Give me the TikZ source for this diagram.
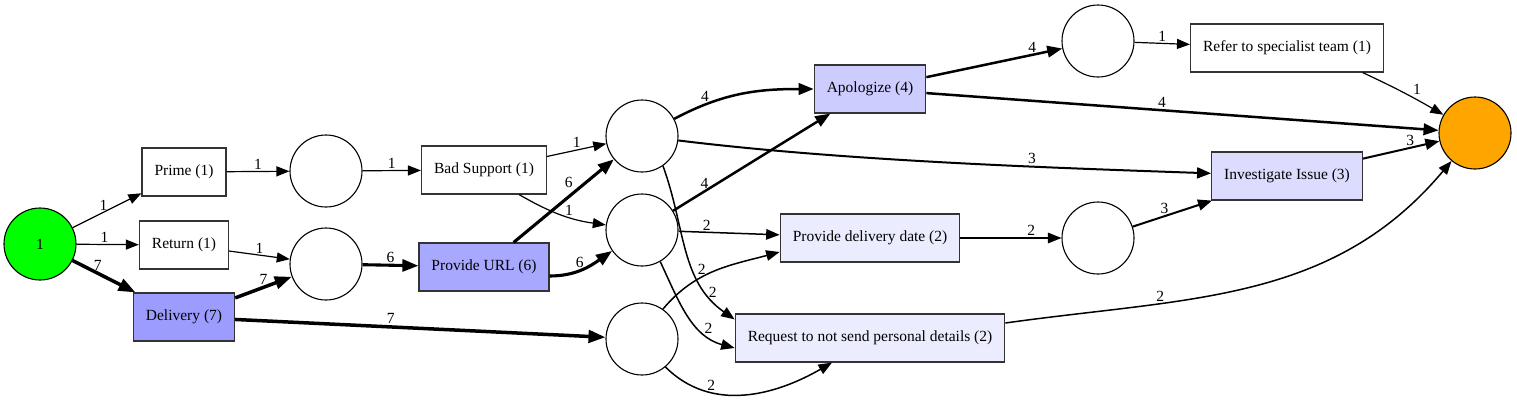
\documentclass[tikz,border=0pt]{standalone}
\usepackage{fontspec}
\setmainfont{Liberation Serif}
\usetikzlibrary{arrows.meta}

\definecolor{verde}{HTML}{00FF00}
\definecolor{naranja}{HTML}{FFA500}
\definecolor{act7}{HTML}{9C9CFF}
\definecolor{act6}{HTML}{A8A8FF}
\definecolor{act4}{HTML}{CCCCFF}
\definecolor{act3}{HTML}{DCDCFF}
\definecolor{act2}{HTML}{ECECFF}
\definecolor{borde}{HTML}{333333}

\tikzset{
  lugar/.style={circle, draw=black, line width=1.1pt, minimum size=72pt, inner sep=0pt, font=\fontsize{15.5}{18}\selectfont},
  trans/.style={rectangle, draw=borde, line width=1.2pt, minimum height=48pt, inner xsep=12.5pt, font=\fontsize{15.5}{18}\selectfont},
  peso/.style={font=\fontsize{15.5}{18}\selectfont, inner sep=1.5pt},
  a1/.style={line width=1.2pt, -{Triangle[length=13pt,width=10pt]}},
  a2/.style={line width=1.5pt, -{Triangle[length=13.5pt,width=10.5pt]}},
  a3/.style={line width=2pt, -{Triangle[length=14pt,width=11pt]}},
  a4/.style={line width=2.5pt, -{Triangle[length=15pt,width=11.5pt]}},
  a6/.style={line width=3.1pt, -{Triangle[length=16pt,width=12pt]}},
  a7/.style={line width=3.5pt, -{Triangle[length=17pt,width=12.5pt]}},
}

\begin{document}
\begin{tikzpicture}[x=1pt, y=-1pt]

    \useasboundingbox (0,0) rectangle (1517,405);

    % inicio y fin
    \node[lugar, fill=verde] (ini) at (40,244) {1};
    \node[lugar, fill=naranja] (fin) at (1475,133) {};

    % transiciones
    \node[trans, fill=white] (prime) at (184,172) {Prime (1)};
    \node[trans, fill=white] (ret) at (184,245) {Return (1)};
    \node[trans, fill=act7] (deliv) at (184,317) {Delivery (7)};
    \node[trans, fill=white] (bad) at (484,170) {Bad Support (1)};
    \node[trans, fill=act6] (url) at (484,267) {Provide URL (6)};
    \node[trans, fill=act4] (apol) at (870,89) {Apologize (4)};
    \node[trans, fill=act2] (pdd) at (870,238) {Provide delivery date (2)};
    \node[trans, fill=act2] (req) at (870,338) {Request to not send personal details (2)};
    \node[trans, fill=white] (refer) at (1287,48) {Refer to specialist team (1)};
    \node[trans, fill=act3] (invest) at (1287,176) {Investigate Issue (3)};

    % lugares
    \node[lugar] (p1) at (326,171) {};
    \node[lugar] (p2) at (326,264) {};
    \node[lugar] (p3) at (642,136) {};
    \node[lugar] (p4) at (642,230) {};
    \node[lugar] (p5) at (642,339) {};
    \node[lugar] (p6) at (1098,41) {};
    \node[lugar] (p7) at (1098,238) {};

    % arcos desde el inicio
    \draw[a1] (ini) -- node[peso, above, pos=0.45] {1} (prime);
    \draw[a1] (ini) -- node[peso, above, pos=0.45] {1} (ret);
    \draw[a7] (ini) -- node[peso, above, pos=0.4] {7} (deliv);

    % primera columna
    \draw[a1] (prime) -- node[peso, above] {1} (p1);
    \draw[a1] (ret) -- node[peso, above] {1} (p2);
    \draw[a7] (deliv) -- node[peso, above] {7} (p2);
    \draw[a7] (deliv) -- node[peso, above, pos=0.42] {7} (p5);
    \draw[a1] (p1) -- node[peso, above] {1} (bad);
    \draw[a6] (p2) -- node[peso, above] {6} (url);

    % segunda columna
    \draw[a1] (bad) -- node[peso, above] {1} (p3);
    \draw[a1] (bad.-35) to[out=-30, in=172] node[peso, above, pos=0.6] {1} (p4);
    \draw[a6] (url) -- node[peso, above left, pos=0.62] {6} (p3);
    \draw[a6] ([yshift=-9pt]url.east) to[out=0, in=-145] node[peso, above, pos=0.45] {6} (p4);

    % tercera columna
    \draw[a4] (p3) to[out=28, in=180] node[peso, above, pos=0.22] {4} (apol);
    \draw[a3] (p3) to[out=-7, in=178, looseness=0.8] node[peso, above, pos=0.66] {3} (invest);
    \draw[a2] (p3.-55) to[out=-70, in=145] node[peso, right, pos=0.78] {2} ([yshift=-6pt]req.north west);
    \draw[a4] (p4) -- node[peso, above, pos=0.2] {4} (apol);
    \draw[a2] (p4) -- node[peso, above, pos=0.28] {2} (pdd);
    \draw[a2] (p4.-60) to[out=-65, in=165] node[peso, above, pos=0.76] {2} ([yshift=-10pt]req.west);
    \draw[a2] (p5.55) to[out=50, in=195] node[peso, above, pos=0.38] {2} ([yshift=-14pt]pdd.west);
    \draw[a2] (p5.-50) to[out=-45, in=-150] node[peso, above, pos=0.3] {2} ([xshift=-38pt]req.south);

    % cuarta columna
    \draw[a4] (apol) -- node[peso, above, pos=0.78] {4} (p6);
    \draw[a4] (apol) -- node[peso, above, pos=0.46] {4} (fin);
    \draw[a2] (pdd) -- node[peso, above, pos=0.7] {2} (p7);
    \draw[a1] (p6) -- node[peso, above] {1} (refer);
    \draw[a3] (p7) -- node[peso, above, pos=0.4] {3} (invest);

    % hacia el fin
    \draw[a1] (refer.-18) to[out=-25, in=150] node[peso, above right, pos=0.6] {1} (fin);
    \draw[a3] (invest) -- node[peso, above, pos=0.62] {3} (fin);
    \draw[a2] ([yshift=15pt]req.east) to[out=8, in=-130] node[peso, above, pos=0.3] {2} (fin);

\end{tikzpicture}
\end{document}
